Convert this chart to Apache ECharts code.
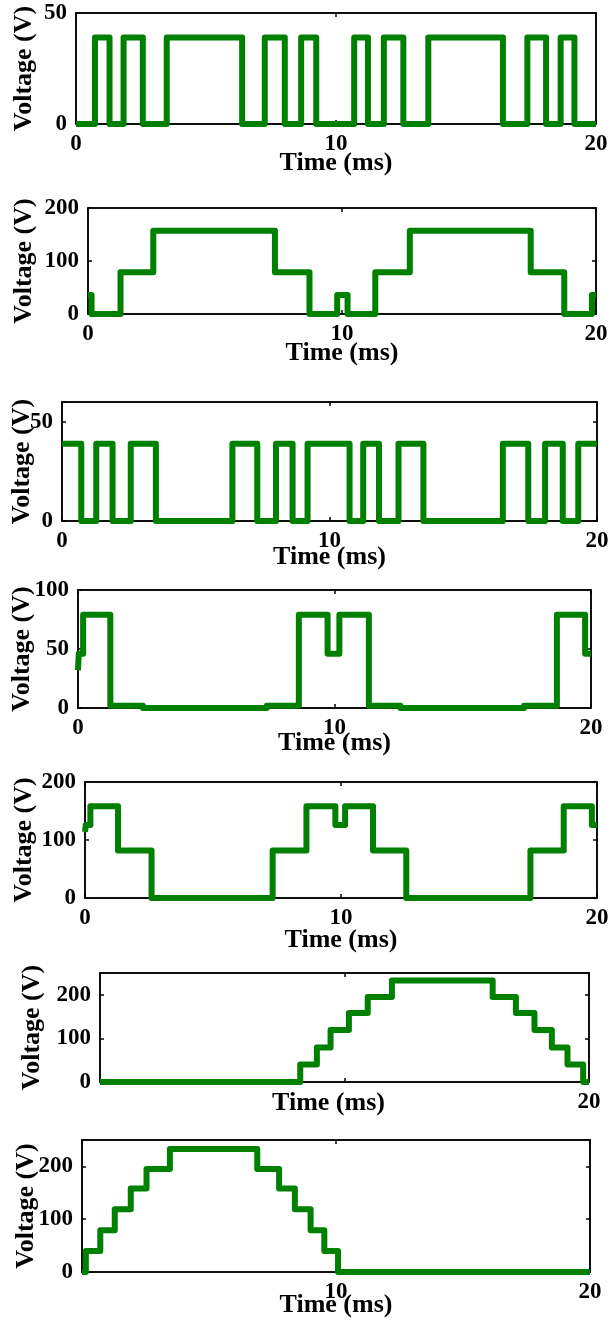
<!DOCTYPE html>
<html><head><meta charset="utf-8">
<script src="https://cdn.jsdelivr.net/npm/echarts@6/dist/echarts.min.js"></script>
<style>html,body{margin:0;padding:0;background:#fff}#c{width:613px;height:1325px}</style>
</head><body><div id="c"></div>
<script>
// ---- data (time in ms, voltage in V), step changes ----
const p1Time = [0, 0.73, 1.29, 1.83, 2.57, 3.49, 6.39, 7.26, 8.03, 8.66, 9.24, 10.70, 11.23, 11.84, 12.59, 13.55, 16.42, 17.36, 18.08, 18.64, 19.17, 20];
const p1Volt = [0, 39, 0, 39, 0, 39, 0, 39, 0, 39, 0, 39, 0, 39, 0, 39, 0, 39, 0, 39, 0, 0];

const p2Time = [0, 0.14, 1.28, 2.57, 7.36, 8.72, 9.81, 10.22, 11.31, 12.67, 17.43, 18.75, 19.84, 20];
const p2Volt = [36, 0, 79, 157, 79, 0, 36, 0, 79, 157, 79, 0, 36, 36];

const p3Time = [0, 0.72, 1.28, 1.89, 2.57, 3.51, 6.37, 7.30, 8.00, 8.62, 9.18, 10.75, 11.26, 11.85, 12.58, 13.51, 16.48, 17.43, 18.06, 18.72, 19.30, 20];
const p3Volt = [39, 0, 39, 0, 39, 0, 39, 0, 39, 0, 39, 0, 39, 0, 39, 0, 39, 0, 39, 0, 39, 39];

const p4Time = [0, 0.03, 0.20, 1.26, 2.53, 7.36, 8.61, 9.73, 10.19, 11.34, 12.57, 17.39, 18.67, 19.77, 20];
const p4Volt = [32, 46, 79, 2, 0, 2, 79, 46, 79, 2, 0, 2, 79, 46, 46];

const p5Time = [0, 0.03, 0.21, 1.29, 2.60, 7.33, 8.65, 9.78, 10.16, 11.25, 12.55, 17.40, 18.70, 19.80, 20];
const p5Volt = [114, 126, 158, 82, 0, 82, 158, 126, 158, 82, 0, 82, 158, 126, 126];

const p6Time = [0, 8.19, 8.87, 9.43, 10.18, 10.95, 11.94, 16.06, 17.01, 17.77, 18.48, 19.12, 19.76, 20];
const p6Volt = [0, 40, 79, 119, 158, 195, 233, 195, 158, 119, 79, 40, 0, 0];

const p7Time = [0, 0.15, 0.72, 1.29, 1.92, 2.54, 3.46, 6.90, 7.76, 8.38, 9.00, 9.54, 10.08, 20];
const p7Volt = [0, 40, 79, 119, 158, 195, 233, 195, 158, 119, 79, 40, 0, 0];

const xTickLabels = [['0','10','20'], ['0','10','20'], ['0','10','20'], ['0','10','20'], ['0','10','20'], ['20'], ['10','20']];
const yTickLabels = [['0','50'], ['0','100','200'], ['0','50'], ['0','50','100'], ['0','100','200'], ['0','100','200'], ['0','100','200']];
const yMax = [50, 200, 60, 100, 200, 250, 250];
const yStep = [50, 100, 50, 50, 100, 100, 100];
const xName = 'Time (ms)';
const yName = 'Voltage (V)';

const times = [p1Time, p2Time, p3Time, p4Time, p5Time, p6Time, p7Time];
const volts = [p1Volt, p2Volt, p3Volt, p4Volt, p5Volt, p6Volt, p7Volt];

// ---- layout ----
const layout = [
  {left: 76,  top: 13,   width: 520, height: 111, xGap: 26, yGap: 39, xPad: 0},
  {left: 88,  top: 208,  width: 508, height: 106, xGap: 26, yGap: 51, xPad: 0},
  {left: 62,  top: 402,  width: 535, height: 119, xGap: 23, yGap: 27, xPad: 0},
  {left: 78,  top: 590,  width: 513, height: 118, xGap: 22, yGap: 43, xPad: 0},
  {left: 85,  top: 782,  width: 512, height: 116, xGap: 29, yGap: 48, xPad: 0},
  {left: 100, top: 973,  width: 489, height: 109, xGap: 8,  yGap: 55, xPad: 32},
  {left: 82,  top: 1140, width: 508, height: 132, xGap: 20, yGap: 43, xPad: 0}
];

const FONT = '"Liberation Serif", "Times New Roman", serif';
const tickFont = {color: '#000', fontFamily: FONT, fontWeight: 'bold', fontSize: 23};
const nameFont = {color: '#000', fontFamily: FONT, fontWeight: 'bold', fontSize: 26};
const lineBlack = {color: '#000', width: 1.5};

const grid = [], xAxis = [], yAxis = [], series = [];
for (let i = 0; i < 7; i++) {
  const L = layout[i];
  grid.push({left: L.left, top: L.top, width: L.width, height: L.height,
    show: true, borderColor: '#000', borderWidth: 1.5, containLabel: false});
  const xl = xTickLabels[i], yl = yTickLabels[i];
  xAxis.push({
    gridIndex: i, type: 'value', min: 0, max: 20, interval: 10, position: 'bottom',
    axisLine: {show: true, onZero: false, lineStyle: lineBlack},
    axisTick: {show: true, inside: true, length: 4, lineStyle: lineBlack},
    axisLabel: {...tickFont, margin: 9, formatter: v => xl.includes(String(v)) ? String(v) : ''},
    splitLine: {show: false},
    name: xName, nameLocation: 'middle', nameGap: L.xGap, nameMoveOverlap: false,
    nameTextStyle: {...nameFont, padding: [0, L.xPad, 0, 0]}
  });
  xAxis.push({
    gridIndex: i, type: 'value', min: 0, max: 20, interval: 10, position: 'top',
    axisLine: {show: true, onZero: false, lineStyle: lineBlack},
    axisTick: {show: true, inside: true, length: 4, lineStyle: lineBlack},
    axisLabel: {show: false}, splitLine: {show: false}
  });
  yAxis.push({
    gridIndex: i, type: 'value', min: 0, max: yMax[i], interval: yStep[i], position: 'left',
    axisLine: {show: true, onZero: false, lineStyle: lineBlack},
    axisTick: {show: true, inside: true, length: 4, lineStyle: lineBlack},
    axisLabel: {...tickFont, margin: 9, formatter: v => yl.includes(String(v)) ? String(v) : ''},
    splitLine: {show: false},
    name: yName, nameLocation: 'middle', nameGap: L.yGap, nameMoveOverlap: false, nameTextStyle: nameFont
  });
  yAxis.push({
    gridIndex: i, type: 'value', min: 0, max: yMax[i], interval: yStep[i], position: 'right',
    axisLine: {show: true, onZero: false, lineStyle: lineBlack},
    axisTick: {show: true, inside: true, length: 4, lineStyle: lineBlack},
    axisLabel: {show: false}, splitLine: {show: false}
  });
  series.push({
    type: 'line', xAxisIndex: 2 * i, yAxisIndex: 2 * i,
    data: times[i].map((t, k) => [t, volts[i][k]]),
    step: 'end', symbol: 'none', showSymbol: false, clip: false,
    lineStyle: {color: '#008000', width: 6, join: 'round', cap: 'butt'},
    z: 5
  });
}

const chart = echarts.init(document.getElementById('c'), null, {renderer: 'canvas'});
chart.setOption({animation: false, backgroundColor: '#fff', grid, xAxis, yAxis, series});
</script>
</body></html>
